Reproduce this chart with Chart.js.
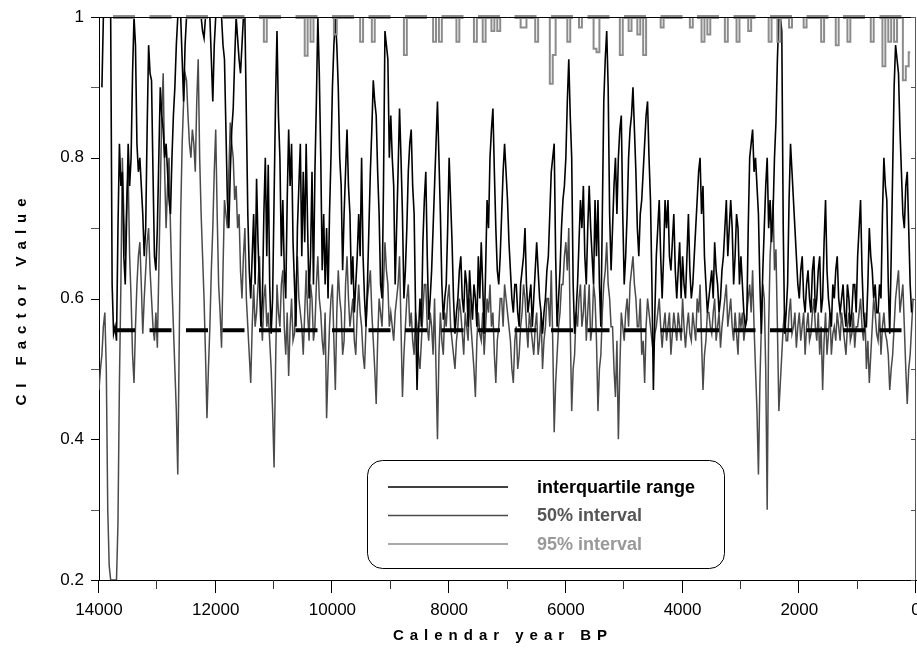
<!DOCTYPE html>
<html>
<head>
<meta charset="utf-8">
<script src="https://cdn.jsdelivr.net/npm/chart.js@4.4.1/dist/chart.umd.min.js"></script>
<style>
  html, body { margin: 0; padding: 0; background: #fff; }
  #wrap { width: 917px; height: 649px; }
</style>
</head>
<body>
<div id="wrap"><canvas id="ciChart" width="917" height="649"></canvas></div>
<script>
// x grid: calendar years BP, every 50 years from 14000 down to 0,
// plus the in-between years (13975, 13925, ...) for the two dense series
const years = [];
for (let yr = 14000; yr >= 0; yr -= 50) years.push(yr);
const midYears = years.slice(0, -1).map((yr) => yr - 25);

// interquartile range (black) on the 50-year grid
const iqr = [
  null,0.90,1,1,1,0.55,0.54,0.82,0.78,0.62,
  0.82,0.80,1,0.82,0.80,0.72,0.70,0.96,0.91,0.66,
  0.70,0.90,0.84,0.82,0.74,0.80,0.90,1,1,0.88,
  1,1,1,1,1,1,0.97,1,1,0.88,
  1,1,1,0.94,0.74,0.78,0.87,1,0.94,0.96,
  1,0.72,0.60,0.72,0.77,0.62,0.60,0.80,0.79,0.55,
  0.74,0.98,0.80,0.74,0.60,0.84,0.82,0.62,0.70,0.82,
  0.78,0.82,0.60,0.78,0.78,1,0.80,0.72,0.70,0.72,
  0.90,1,0.90,0.76,0.72,0.84,0.72,0.66,0.62,0.72,
  0.80,0.60,0.62,0.78,0.91,0.86,0.72,0.60,0.98,0.94,
  0.86,0.76,0.70,0.87,0.72,0.64,0.78,0.84,0.72,0.47,
  0.60,0.68,0.78,0.57,0.64,0.76,0.88,0.72,0.57,0.62,
  0.80,0.68,0.55,0.60,0.66,0.58,0.62,0.64,0.57,0.60,
  0.66,0.68,0.55,0.74,0.80,0.87,0.70,0.62,0.72,0.82,
  0.74,0.64,0.58,0.62,0.56,0.64,0.70,0.58,0.62,0.60,
  0.68,0.60,0.55,0.60,0.66,0.78,0.82,0.56,0.64,0.74,
  0.80,0.94,0.80,0.55,0.62,0.74,0.76,0.62,0.76,0.66,
  0.74,0.74,0.56,0.88,0.98,0.72,0.70,0.80,0.80,0.86,
  0.62,0.72,0.84,0.90,0.78,0.66,0.74,0.82,0.88,0.74,
  0.47,0.66,0.74,0.60,0.74,0.74,0.64,0.72,0.60,0.68,
  0.66,0.60,0.72,0.60,0.66,0.74,0.80,0.76,0.62,0.60,
  0.64,0.68,0.62,0.60,0.66,0.74,0.70,0.70,0.66,0.70,
  0.66,0.58,0.57,0.80,0.84,0.80,0.72,0.55,0.70,0.80,
  0.74,0.72,0.85,1,0.98,0.55,0.62,0.82,0.74,0.66,
  0.60,0.66,0.58,0.64,0.58,0.66,0.60,0.66,0.60,0.74,
  0.60,0.56,0.60,0.66,0.58,0.62,0.56,0.60,0.58,0.62,
  0.66,0.74,0.58,0.56,0.70,0.64,0.62,0.58,0.60,0.80,
  0.74,0.55,0.78,0.96,0.92,0.78,0.70,0.78,0.62,null,
  null
];
// interquartile range at the in-between years
const iqrMid = [
  null,1,1,1,0.62,0.56,0.70,0.76,0.66,0.72,
  0.76,0.92,0.96,0.78,0.76,0.66,0.84,0.92,0.78,0.64,
  0.80,0.86,0.80,0.78,0.72,0.86,0.96,1,0.94,0.96,
  1,1,1,1,1,0.98,1,1,0.94,0.96,
  1,1,0.96,0.84,0.70,0.84,0.94,0.97,0.92,1,
  0.86,0.64,0.66,0.62,0.68,0.56,0.72,0.66,0.62,0.60,
  0.88,0.86,0.66,0.64,0.74,0.76,0.68,0.56,0.76,0.66,
  0.68,0.70,0.66,0.62,0.88,0.92,0.64,0.62,0.60,0.80,
  0.96,0.96,0.80,0.64,0.78,0.76,0.62,0.58,0.66,0.66,
  0.66,0.56,0.70,0.84,0.88,0.78,0.62,0.76,0.96,0.80,
  0.80,0.62,0.78,0.80,0.60,0.70,0.82,0.76,0.58,0.55,
  0.56,0.74,0.66,0.60,0.70,0.82,0.80,0.62,0.60,0.70,
  0.74,0.60,0.58,0.64,0.60,0.64,0.56,0.60,0.62,0.56,
  0.60,0.62,0.64,0.70,0.84,0.78,0.64,0.66,0.78,0.78,
  0.68,0.60,0.62,0.58,0.62,0.66,0.62,0.60,0.56,0.64,
  0.64,0.58,0.58,0.64,0.72,0.80,0.66,0.60,0.70,0.76,
  0.88,0.86,0.62,0.58,0.68,0.70,0.66,0.70,0.70,0.62,
  0.66,0.62,0.72,0.94,0.90,0.64,0.76,0.72,0.84,0.72,
  0.66,0.80,0.86,0.84,0.70,0.72,0.78,0.86,0.80,0.62,
  0.58,0.70,0.66,0.66,0.70,0.66,0.68,0.64,0.64,0.60,
  0.62,0.66,0.64,0.62,0.70,0.78,0.72,0.66,0.58,0.62,
  0.60,0.64,0.58,0.64,0.70,0.66,0.74,0.62,0.72,0.62,
  0.62,0.56,0.70,0.82,0.78,0.76,0.62,0.64,0.76,0.70,
  0.68,0.80,0.94,1,0.70,0.58,0.74,0.78,0.70,0.62,
  0.64,0.60,0.62,0.60,0.64,0.58,0.64,0.58,0.68,0.64,
  0.58,0.62,0.64,0.60,0.60,0.58,0.62,0.56,0.62,0.58,
  0.70,0.64,0.56,0.62,0.66,0.60,0.58,0.62,0.72,0.76,
  0.62,0.66,0.90,0.94,0.84,0.72,0.76,0.70,0.58,null
];

// 50% interval (dark grey) on the 50-year grid
const int50 = [
  0.47,0.52,0.58,0.30,0.20,0.20,0.20,0.48,0.80,0.66,
  0.78,0.60,0.48,0.62,0.68,0.55,0.64,0.70,0.60,0.54,
  0.53,0.75,0.92,0.70,0.80,0.62,0.50,0.35,0.72,0.88,
  0.91,0.82,0.84,0.78,0.94,0.72,0.60,0.43,0.56,0.70,
  0.84,0.62,0.53,0.74,0.70,0.85,0.80,0.76,0.72,0.60,
  0.70,0.56,0.48,0.62,0.58,0.66,0.54,0.62,0.58,0.50,
  0.36,0.62,0.56,0.64,0.52,0.49,0.60,0.55,0.66,0.58,
  0.52,0.64,0.54,0.60,0.56,0.66,0.58,0.52,0.43,0.56,
  0.62,0.47,0.64,0.58,0.54,0.66,0.56,0.60,0.52,0.62,
  0.56,0.50,0.60,0.64,0.54,0.45,0.60,0.56,0.68,0.62,
  0.58,0.54,0.60,0.66,0.46,0.56,0.62,0.58,0.52,0.56,
  0.50,0.58,0.62,0.54,0.56,0.60,0.40,0.58,0.52,0.56,
  0.62,0.54,0.50,0.56,0.58,0.52,0.56,0.60,0.53,0.46,
  0.58,0.54,0.52,0.60,0.62,0.58,0.48,0.56,0.60,0.62,
  0.58,0.54,0.48,0.56,0.52,0.58,0.60,0.53,0.56,0.52,
  0.58,0.54,0.50,0.56,0.60,0.64,0.41,0.52,0.58,0.62,
  0.68,0.70,0.44,0.52,0.56,0.62,0.58,0.54,0.62,0.56,
  0.60,0.44,0.52,0.62,0.68,0.60,0.56,0.46,0.40,0.58,
  0.54,0.60,0.62,0.66,0.60,0.56,0.52,0.48,0.60,0.56,
  0.52,0.56,0.60,0.53,0.58,0.56,0.52,0.58,0.54,0.56,
  0.60,0.53,0.58,0.54,0.56,0.60,0.62,0.47,0.54,0.58,
  0.55,0.60,0.56,0.53,0.58,0.62,0.58,0.56,0.58,0.52,
  0.56,0.54,0.58,0.62,0.64,0.50,0.35,0.56,0.60,0.30,
  0.66,0.74,0.67,0.44,0.52,0.58,0.54,0.60,0.56,0.53,
  0.58,0.56,0.52,0.58,0.55,0.60,0.54,0.52,0.47,0.58,
  0.55,0.52,0.56,0.58,0.54,0.56,0.52,0.58,0.55,0.53,
  0.56,0.60,0.54,0.50,0.48,0.56,0.58,0.54,0.52,0.58,
  0.54,0.47,0.52,0.60,0.64,0.60,0.56,0.45,0.52,0.60,
  null
];
// 50% interval at the in-between years
const int50Mid = [
  0.50,0.56,0.50,0.22,0.20,0.20,0.28,0.62,0.72,0.74,
  0.66,0.52,0.56,0.66,0.62,0.60,0.68,0.64,0.56,0.58,
  0.64,0.86,0.78,0.76,0.70,0.56,0.44,0.54,0.82,0.92,
  0.86,0.80,0.82,0.88,0.80,0.66,0.52,0.50,0.64,0.78,
  0.72,0.58,0.64,0.72,0.78,0.82,0.74,0.70,0.64,0.66,
  0.60,0.52,0.56,0.56,0.62,0.58,0.60,0.56,0.54,0.44,
  0.50,0.58,0.62,0.56,0.58,0.56,0.54,0.62,0.60,0.56,
  0.58,0.58,0.62,0.54,0.62,0.60,0.54,0.58,0.50,0.60,
  0.54,0.58,0.60,0.52,0.62,0.60,0.58,0.54,0.58,0.58,
  0.52,0.56,0.62,0.58,0.50,0.54,0.58,0.62,0.64,0.56,
  0.56,0.58,0.62,0.56,0.52,0.60,0.56,0.54,0.58,0.52,
  0.54,0.62,0.56,0.58,0.52,0.50,0.52,0.54,0.58,0.60,
  0.56,0.52,0.54,0.60,0.55,0.58,0.54,0.56,0.50,0.54,
  0.55,0.58,0.56,0.58,0.56,0.52,0.54,0.60,0.56,0.60,
  0.56,0.50,0.54,0.50,0.56,0.62,0.56,0.58,0.54,0.56,
  0.52,0.58,0.54,0.60,0.56,0.54,0.48,0.56,0.62,0.66,
  0.64,0.56,0.50,0.58,0.60,0.56,0.62,0.58,0.54,0.62,
  0.54,0.50,0.58,0.64,0.62,0.56,0.50,0.54,0.50,0.56,
  0.58,0.56,0.64,0.62,0.56,0.60,0.54,0.56,0.58,0.54,
  0.55,0.58,0.56,0.56,0.54,0.58,0.55,0.56,0.58,0.54,
  0.56,0.56,0.55,0.58,0.54,0.58,0.54,0.52,0.58,0.56,
  0.58,0.54,0.58,0.56,0.60,0.56,0.60,0.54,0.55,0.58,
  0.58,0.56,0.60,0.58,0.56,0.44,0.48,0.62,0.50,0.56,
  0.70,0.64,0.56,0.48,0.56,0.54,0.58,0.55,0.58,0.56,
  0.54,0.58,0.56,0.54,0.58,0.56,0.58,0.56,0.54,0.52,
  0.58,0.55,0.54,0.56,0.58,0.54,0.56,0.54,0.58,0.56,
  0.58,0.56,0.58,0.54,0.52,0.60,0.55,0.58,0.56,0.55,
  0.52,0.50,0.56,0.62,0.58,0.62,0.50,0.50,0.56,null
];

// 95% interval (light grey) on the 50-year grid
const int95 = [
  1,1,1,1,1,1,1,1,1,1,
  1,1,1,1,1,1,1,1,1,1,
  1,1,1,1,1,1,1,1,1,1,
  1,1,1,1,1,1,1,1,1,1,
  1,1,1,1,1,1,1,1,1,1,
  1,1,1,1,1,1,1,0.965,1,1,
  1,1,1,1,1,1,1,1,1,1,
  1,0.945,1,0.965,1,1,1,1,1,1,
  1,0.975,1,1,1,1,1,1,1,1,
  0.965,1,1,1,0.965,1,1,1,1,1,
  1,1,1,1,1,0.946,1,1,1,1,
  1,1,1,1,1,0.965,1,0.965,1,1,
  1,1,1,0.965,1,1,1,1,1,0.965,
  1,1,0.965,1,1,0.98,1,0.98,1,1,
  1,1,1,1,1,0.985,0.985,1,1,1,
  0.965,1,1,1,1,0.905,0.946,1,1,1,
  1,0.965,1,1,1,0.985,1,1,1,1,
  0.955,0.95,1,1,1,1,1,1,1,0.946,
  1,1,0.98,1,1,0.975,1,0.946,1,1,
  1,1,1,0.985,1,1,1,1,1,1,
  1,1,1,0.985,1,1,1,0.965,1,0.975,
  1,1,1,1,1,0.965,1,1,1,0.965,
  1,1,1,0.98,1,1,1,1,1,1,
  0.965,1,1,0.965,1,1,1,0.985,1,1,
  1,1,0.985,1,1,1,1,1,0.965,1,
  1,1,1,0.96,1,1,1,0.965,1,1,
  1,1,1,1,1,0.965,1,1,1,0.93,
  1,0.965,1,0.965,1,1,0.91,0.93,0.95,null,
  null
];

// reference lines
const refLevel = 0.555;
const refTop = 1;
const refStart = 13760;
const refEnd = 100;

const yTicks = [0.2, 0.4, 0.6, 0.8, 1];

const FONT = "'Liberation Sans', Arial, sans-serif";

function pts(values) {
  return years.map((yr, i) => ({ x: yr, y: values[i] }));
}

// interleave the 50-year values with the in-between values
function densePts(values, mids) {
  const out = [];
  years.forEach((yr, i) => {
    out.push({ x: yr, y: values[i] });
    if (i < midYears.length) out.push({ x: midYears[i], y: mids[i] });
  });
  return out;
}

function roundRect(ctx, x, y, w, h, r) {
  ctx.beginPath();
  ctx.moveTo(x + r, y);
  ctx.arcTo(x + w, y, x + w, y + h, r);
  ctx.arcTo(x + w, y + h, x, y + h, r);
  ctx.arcTo(x, y + h, x, y, r);
  ctx.arcTo(x, y, x + w, y, r);
  ctx.closePath();
}

function spacedText(ctx, text, cx, cy, gap) {
  const chars = [...text];
  const widths = chars.map((c) => ctx.measureText(c).width);
  const total = widths.reduce((a, b) => a + b, 0) + gap * (chars.length - 1);
  let x = cx - total / 2;
  ctx.textAlign = "left";
  ctx.textBaseline = "middle";
  chars.forEach((c, i) => {
    ctx.fillText(c, x, cy);
    x += widths[i] + gap;
  });
}

const decorations = {
  id: "decorations",
  afterDatasetsDraw(chart) {
    const ctx = chart.ctx;
    const a = chart.chartArea;
    const yS = chart.scales.y;
    ctx.save();
    // top + right frame
    ctx.strokeStyle = "#000";
    ctx.lineWidth = 1;
    ctx.beginPath();
    ctx.moveTo(a.left, a.top + 0.5);
    ctx.lineTo(a.right, a.top + 0.5);
    ctx.stroke();
    ctx.strokeStyle = "#555";
    ctx.beginPath();
    ctx.moveTo(a.right - 0.5, a.top);
    ctx.lineTo(a.right - 0.5, a.bottom);
    ctx.stroke();
    // inward ticks on the right
    yS.ticks.forEach((t) => {
      const y = Math.round(yS.getPixelForValue(t.value)) + 0.5;
      ctx.beginPath();
      ctx.moveTo(a.right, y);
      ctx.lineTo(a.right - 5, y);
      ctx.stroke();
    });
    ctx.restore();
  },
  afterDraw(chart) {
    const ctx = chart.ctx;
    const a = chart.chartArea;
    const xS = chart.scales.x;
    const yS = chart.scales.y;
    ctx.save();
    ctx.lineWidth = 1;
    // x ticks (outward, longer at labelled ones)
    xS.ticks.forEach((t) => {
      const x = Math.round(xS.getPixelForValue(t.value)) - 0.5;
      const major = t.value % 2000 === 0;
      ctx.strokeStyle = major ? "#000" : "#333";
      ctx.beginPath();
      ctx.moveTo(x, a.bottom);
      ctx.lineTo(x, a.bottom + (major ? 13 : 9));
      ctx.stroke();
    });
    // y ticks (outward)
    yS.ticks.forEach((t) => {
      const y = Math.round(yS.getPixelForValue(t.value)) + 0.5;
      const major = Math.round(t.value * 10) % 2 === 0;
      ctx.strokeStyle = major ? "#000" : "#555";
      ctx.beginPath();
      ctx.moveTo(a.left, y);
      ctx.lineTo(a.left - 8, y);
      ctx.stroke();
    });

    // axis titles, letter spaced
    ctx.fillStyle = "#000";
    ctx.font = "bold 15px " + FONT;
    spacedText(ctx, "Calendar year BP", 500, 636, 6);
    ctx.save();
    ctx.translate(22, 302);
    ctx.rotate(-Math.PI / 2);
    spacedText(ctx, "CI Factor Value", 0, 0, 7);
    ctx.restore();

    // legend box
    const bx = a.left + 268, by = 460, bw = 357, bh = 108;
    ctx.strokeStyle = "#000";
    ctx.lineWidth = 1;
    roundRect(ctx, bx + 0.5, by + 0.5, bw, bh, 15);
    ctx.fillStyle = "#fff";
    ctx.fill();
    ctx.stroke();
    const items = chart.data.datasets.filter((d) => d.inLegend);
    ctx.font = "bold 18px " + FONT;
    ctx.textAlign = "left";
    ctx.textBaseline = "middle";
    items.forEach((d, i) => {
      const ly = by + 27 + i * 28.5;
      ctx.strokeStyle = d.borderColor;
      ctx.lineWidth = d.legendWidth;
      ctx.beginPath();
      ctx.moveTo(bx + 21, ly);
      ctx.lineTo(bx + 141, ly);
      ctx.stroke();
      ctx.fillStyle = d.textColor;
      ctx.fillText(d.label, bx + 170, ly + 1);
    });
    ctx.restore();
  },
};

const ctx = document.getElementById("ciChart").getContext("2d");
const ciChart = new Chart(ctx, {
  type: "line",
  data: {
    datasets: [
      {
        label: "median ref",
        data: [{ x: refStart, y: refLevel }, { x: refEnd, y: refLevel }],
        borderColor: "#000",
        borderWidth: 4,
        borderDash: [22, 14.5],
        borderCapStyle: "butt",
        pointRadius: 0,
        clip: false,
        order: 0,
      },
      {
        label: "top ref",
        data: [{ x: refStart, y: refTop }, { x: refEnd, y: refTop }],
        borderColor: "#8c8c8c",
        borderWidth: 4,
        borderDash: [22, 14.5],
        borderCapStyle: "butt",
        pointRadius: 0,
        clip: false,
        order: 0,
      },
      {
        label: "interquartile range",
        data: densePts(iqr, iqrMid),
        borderColor: "#000",
        textColor: "#000",
        legendWidth: 1.5,
        inLegend: true,
        borderWidth: 1.6,
        pointRadius: 0,
        order: 2,
      },
      {
        label: "50% interval",
        data: densePts(int50, int50Mid),
        borderColor: "#4a4a4a",
        textColor: "#555",
        legendWidth: 1.5,
        inLegend: true,
        borderWidth: 1.5,
        pointRadius: 0,
        order: 3,
      },
      {
        label: "95% interval",
        data: pts(int95),
        borderColor: "#8c8c8c",
        textColor: "#999",
        legendWidth: 1.5,
        inLegend: true,
        borderWidth: 2,
        stepped: "middle",
        pointRadius: 0,
        order: 1,
      },
    ],
  },
  options: {
    responsive: false,
    animation: false,
    events: [],
    layout: { padding: { top: 17, right: 1, left: 0, bottom: 0 } },
    plugins: {
      legend: { display: false },
      tooltip: { enabled: false },
    },
    elements: { line: { tension: 0 } },
    scales: {
      x: {
        type: "linear",
        reverse: true,
        min: 0,
        max: 14000,
        grid: { display: false },
        border: { display: true, color: "#000", width: 1 },
        ticks: {
          stepSize: 1000,
          autoSkip: false,
          maxRotation: 0,
          padding: 12,
          color: "#000",
          font: { family: FONT, size: 17 },
          callback: (v) => (v % 2000 === 0 ? String(v) : ""),
        },
        afterFit: (s) => {
          s.height = 69;
          s.paddingLeft = 0;
          s.paddingRight = 0;
        },
      },
      y: {
        min: 0.2,
        max: 1,
        grid: { display: false },
        border: { display: true, color: "#000", width: 1 },
        ticks: {
          stepSize: 0.1,
          autoSkip: false,
          padding: 7,
          color: "#000",
          font: { family: FONT, size: 17 },
          callback: (v) => {
            const t = yTicks.find((k) => Math.abs(k - v) < 1e-6);
            return t === undefined ? "" : String(t);
          },
        },
        afterFit: (s) => {
          s.width = 99;
          s.paddingTop = 0;
          s.paddingBottom = 0;
        },
      },
    },
  },
  plugins: [decorations],
});
</script>
</body>
</html>
